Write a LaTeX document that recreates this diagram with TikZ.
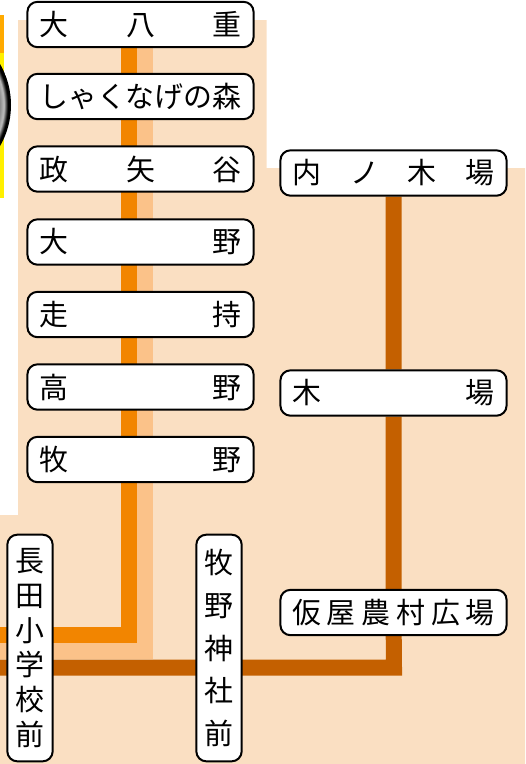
\documentclass[tikz,border=0pt]{standalone}
\usepackage{fontspec}
\usetikzlibrary{backgrounds}
\setmainfont{Noto Sans CJK JP}
\definecolor{peach}{HTML}{FADFC2}
\definecolor{lineOrange}{HTML}{F28500}
\definecolor{lineLight}{HTML}{FBC289}
\definecolor{lineDark}{HTML}{C46000}
\definecolor{stripYellow}{HTML}{FFF000}
\definecolor{stripOrange}{HTML}{FFAA00}
\pgfdeclareradialshading{knobShade}{\pgfpointorigin}{
  color(0bp)=(black!55); color(21bp)=(black!55); color(22.8bp)=(black!25); color(24bp)=(black); color(25bp)=(black)}
\tikzset{
  stn/.style={draw=black,fill=white,line width=1.5pt,rounded corners=7.5pt,minimum width=169.6pt,minimum height=34pt,inner sep=0pt,text width=152pt,font=\fontsize{21.7}{26}\selectfont},
  vstn/.style={draw=black,fill=white,line width=1.5pt,rounded corners=7.5pt,minimum width=34pt,minimum height=170pt,inner sep=0pt,align=center},
  route/.style={line width=12pt,line join=miter}
}
\begin{document}
\begin{tikzpicture}[x=0.75pt,y=0.75pt,yscale=-1,xscale=1]
\useasboundingbox (0,0) rectangle (525,764);

% Stations
\node [stn] (ooyae) at (140.5,24.5) {大\hfill 八\hfill 重};
\node [stn] (shakunage) at (140.5,96.5) {しゃくなげの森};
\node [stn] (masayadani) at (140.5,169) {政\hfill 矢\hfill 谷};
\node [stn] (oono) at (140.5,242) {大\hfill 野};
\node [stn] (hashiri) at (140.5,314.5) {走\hfill 持};
\node [stn] (takano) at (140.5,387) {高\hfill 野};
\node [stn] (makino) at (140.5,459.5) {牧\hfill 野};
\node [stn] (uchinoki) at (393.5,173) {内\hfill ノ\hfill 木\hfill 場};
\node [stn] (kiba) at (393.5,393) {木\hfill 場};
\node [stn] (kariya) at (393.5,612.5) {仮\hfill 屋\hfill 農\hfill 村\hfill 広\hfill 場};
\node [vstn,font=\fontsize{21.7}{26}\selectfont] (nagata) at (30,648) {長\\田\\小\\学\\校\\前};
\node [vstn,font=\fontsize{21.7}{31.9}\selectfont] (jinja) at (219,648) {牧\\野\\神\\社\\前};

% Route ends
\coordinate (orangeTop) at (129,24);
\coordinate (orangeBend) at (129,635);
\coordinate (orangeEnd) at (0,635);
\coordinate (lightTop) at (145,24);
\coordinate (lightBend) at (145,651);
\coordinate (lightEnd) at (0,651);
\coordinate (darkBend) at (394,667.5);
\coordinate (darkEnd) at (0,667.5);

\begin{scope}[on background layer]
% Background
\fill [peach] (18,20) -- (266.5,20) -- (266.5,168) -- (525,168) -- (525,764) -- (0,764) -- (0,515) -- (18,515) -- cycle;
% Strip and knob
\fill [stripYellow] (0,15) rectangle (4,198);
\fill [stripOrange] (0,15) rectangle (4,53);
\shade [shading=knobShade] (-71,105) circle (82);
% Routes
\draw [route,lineLight] (lightTop) -- (lightBend) -- (lightEnd);
\draw [route,lineOrange] (orangeTop) -- (orangeBend) -- (orangeEnd);
\draw [route,lineDark] (uchinoki.south) -- (kiba) -- (kariya) -- (darkBend) -- (jinja |- darkBend) -- (nagata |- darkBend) -- (darkEnd);
\end{scope}
\end{tikzpicture}
\end{document}
